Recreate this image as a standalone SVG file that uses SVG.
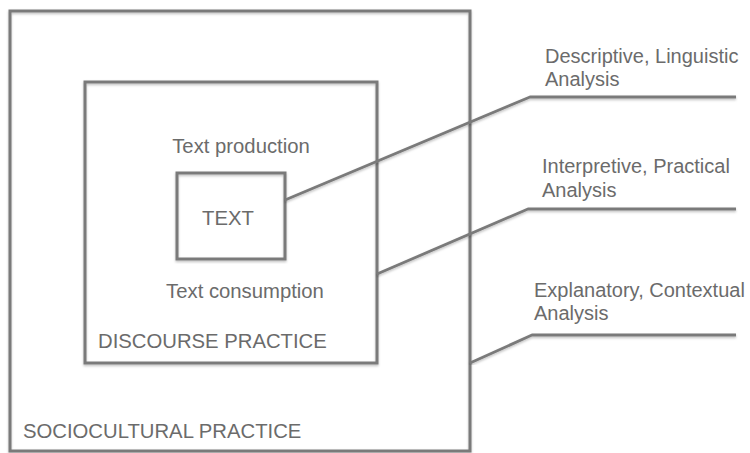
<svg xmlns="http://www.w3.org/2000/svg" width="750" height="453" viewBox="0 0 750 453">
<defs>
<filter id="sh" x="-5%" y="-5%" width="110%" height="110%">
<feDropShadow dx="0" dy="1.5" stdDeviation="1.2" flood-color="#000" flood-opacity="0.25"/>
</filter>
</defs>
<style>
.box{fill:none;stroke:#7a7a7a;stroke-width:3;filter:url(#sh)}
.ln{fill:none;stroke:#7a7a7a;stroke-width:2.8;stroke-linejoin:round;filter:url(#sh)}
text{font-family:"Liberation Sans",Arial,sans-serif;font-size:20.3px;fill:#6b6b6b}
.r{font-size:20px}
</style>
<rect width="750" height="453" fill="#fff"/>
<g id="sociocultural">
<rect class="box" x="10" y="11" width="460" height="440"/>
<text x="23" y="438">SOCIOCULTURAL PRACTICE</text>
</g>
<g id="discourse">
<rect class="box" x="85" y="82" width="292" height="281"/>
<text x="98" y="348">DISCOURSE PRACTICE</text>
<text x="241" y="153" text-anchor="middle">Text production</text>
<text x="245" y="298" text-anchor="middle">Text consumption</text>
</g>
<g id="text-node">
<rect class="box" x="177" y="173" width="108" height="86"/>
<text x="228" y="225" text-anchor="middle">TEXT</text>
</g>
<g id="connectors">
<polyline class="ln" points="285,200 530,97 736,97"/>
<polyline class="ln" points="377,274 528,209 736,209"/>
<polyline class="ln" points="470,363 532,335 736,335"/>
</g>
<g id="label-descriptive">
<text class="r" x="545" y="63">Descriptive, Linguistic</text>
<text class="r" x="545" y="86">Analysis</text>
</g>
<g id="label-interpretive">
<text class="r" x="542" y="173">Interpretive, Practical</text>
<text class="r" x="542" y="197">Analysis</text>
</g>
<g id="label-explanatory">
<text class="r" x="534" y="297">Explanatory, Contextual</text>
<text class="r" x="534" y="320">Analysis</text>
</g>
</svg>
